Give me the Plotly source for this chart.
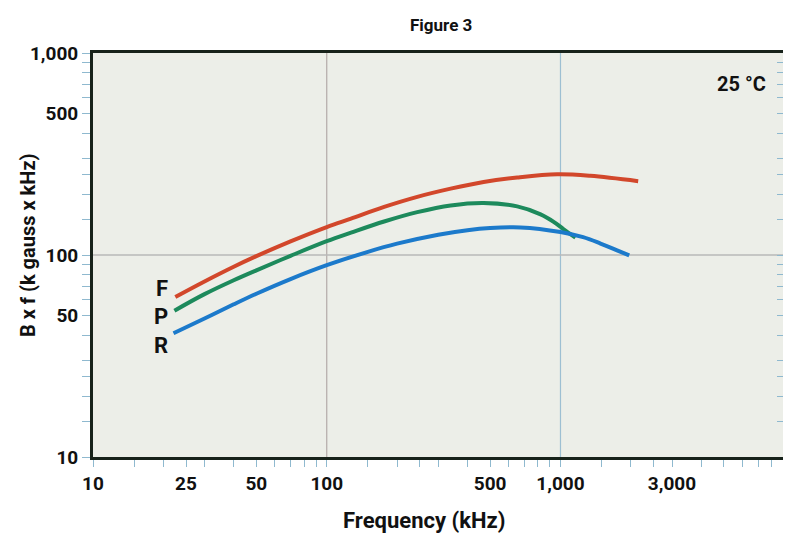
import plotly.graph_objects as go
import numpy as np

# Data (frequency kHz, B x f)
f_freq = [22.5, 30, 40, 50, 70, 100, 127, 176, 244, 339, 469, 653, 968, 1342, 2150]
f_val = [62, 74, 87.5, 98.7, 116.8, 137.5, 151.5, 173, 194, 213, 230, 242, 251, 246.6, 232]

p_freq = [22.3, 30, 40, 50, 70, 100, 127, 176, 244, 339, 469, 653, 822, 935, 1032, 1159]
p_val = [53, 64, 75, 84, 99, 117, 129, 146.5, 163, 176, 181, 174, 159, 146, 134, 122]

r_freq = [22.1, 30, 40, 50, 70, 100, 150, 200, 300, 400, 500, 675, 1000, 1250, 1483, 1746, 1968]
r_val = [41, 48.5, 57, 64.3, 76, 89, 103.7, 113.8, 126, 132.7, 136, 137, 130, 122.5, 114, 105.5, 99.5]

series_names = ["F", "P", "R"]
series_colors = ["#d2472b", "#1d8a5c", "#1c7acb"]

x_labels = {10: "10", 25: "25", 50: "50", 100: "100", 500: "500", 1000: "1,000", 3000: "3,000"}
y_labels = {10: "10", 50: "50", 100: "100", 500: "500", 1000: "1,000"}

FONT = "Roboto, Liberation Sans, sans-serif"
INK = "#111111"

mults = [1, 1.5, 2, 2.5, 3, 4, 5, 6, 7, 8, 9]
x_ticks = [m * 10 ** e for e in range(1, 4) for m in mults]
y_ticks = [m * 10 ** e for e in range(1, 3) for m in mults] + [1000]
x_text = [x_labels.get(v, "") for v in x_ticks]
y_text = [y_labels.get(v, "") for v in y_ticks]

fig = go.Figure()
for name, xs, ys, col in zip(series_names, [f_freq, p_freq, r_freq], [f_val, p_val, r_val], series_colors):
    fig.add_trace(go.Scatter(x=xs, y=ys, mode="lines", name=name,
                             line=dict(color=col, width=4, shape="spline", smoothing=1.0),
                             showlegend=False, hoverinfo="skip"))

# invisible trace to activate right-hand tick axis
fig.add_trace(go.Scatter(x=r_freq, y=r_val, yaxis="y2", mode="lines",
                         line=dict(width=0), opacity=0, showlegend=False, hoverinfo="skip"))

xr = [1, 3.952]
yr = [1, 3]

# grid lines
fig.add_shape(type="line", xref="x", yref="paper", x0=100, x1=100, y0=0, y1=1,
              line=dict(color="#b3aaa8", width=1.2), layer="below")
fig.add_shape(type="line", xref="x", yref="paper", x0=1000, x1=1000, y0=0, y1=1,
              line=dict(color="#9dbfd2", width=1.2), layer="below")
fig.add_shape(type="line", xref="paper", yref="y", x0=0, x1=1, y0=100, y1=100,
              line=dict(color="#b8b8b8", width=1.6), layer="below")

# series labels
label_y = [68.5, 49.7, 35.7]
for name, ly in zip(series_names, label_y):
    fig.add_annotation(x=np.log10(21.4), y=np.log10(ly), text=name, showarrow=False,
                       xanchor="right", yanchor="middle",
                       font=dict(family=FONT, size=22, color=INK, weight="bold"))

fig.add_annotation(xref="paper", yref="paper", x=0.978, y=0.923, text="25 °C", showarrow=False,
                   xanchor="right", yanchor="middle",
                   font=dict(family=FONT, size=20, color=INK, weight="bold"))

# axis titles
fig.add_annotation(xref="paper", yref="paper", x=0.479, y=-0.158, text="Frequency (kHz)",
                   showarrow=False, xanchor="center", yanchor="middle",
                   font=dict(family=FONT, size=22, color=INK, weight="bold"))
fig.add_annotation(xref="paper", yref="paper", x=-0.094, y=0.525, text="B x f (k gauss x kHz)",
                   showarrow=False, xanchor="center", yanchor="middle", textangle=-90,
                   font=dict(family=FONT, size=20, color=INK, weight="bold"))

fig.update_layout(
    width=785, height=541,
    margin=dict(l=93, r=2, t=53, b=84),
    paper_bgcolor="white",
    plot_bgcolor="#eceee8",
    title=dict(text="Figure 3", x=0.562, xanchor="center", y=0.953, yanchor="middle",
               font=dict(family=FONT, size=17, color=INK, weight="bold")),
    xaxis=dict(type="log", range=xr, tickmode="array", tickvals=x_ticks, ticktext=x_text,
               ticks="outside", ticklen=7, tickwidth=1, tickcolor="#8fb9cf",
               showgrid=False, zeroline=False, automargin=False,
               showline=True, linewidth=3, linecolor="#17221a", mirror=True,
               tickfont=dict(family=FONT, size=19, color=INK, weight="bold")),
    yaxis=dict(type="log", range=yr, tickmode="array", tickvals=y_ticks, ticktext=y_text,
               ticks="outside", ticklen=8, tickwidth=1, tickcolor="#8fb9cf",
               showgrid=False, zeroline=False, automargin=False,
               showline=True, linewidth=3, linecolor="#17221a",
               tickfont=dict(family=FONT, size=19, color=INK, weight="bold")),
    yaxis2=dict(type="log", range=yr, overlaying="y", side="right", tickmode="array",
                tickvals=y_ticks, ticktext=["" for _ in y_ticks], ticks="inside", ticklen=6,
                tickwidth=1, tickcolor="#8fb9cf", showgrid=False, zeroline=False, showline=False,
                showticklabels=False, automargin=False),
)

fig.write_html("out.html")
